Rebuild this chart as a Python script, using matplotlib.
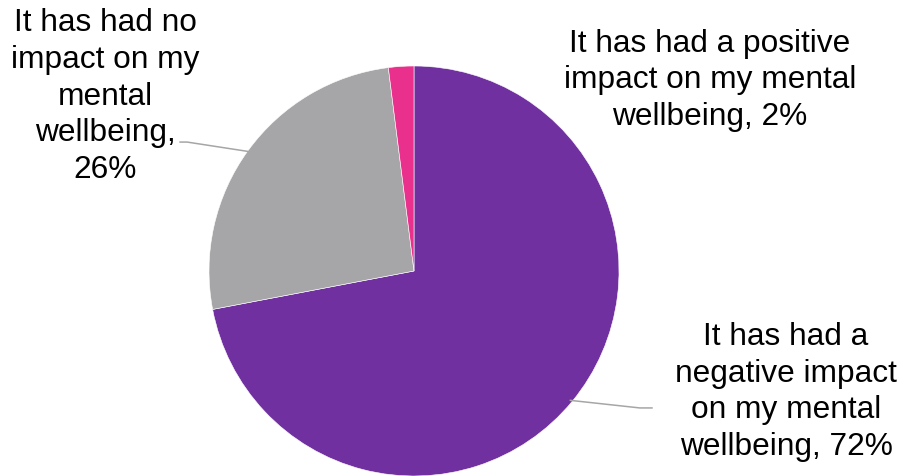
import numpy as np
import matplotlib
matplotlib.use("Agg")
import matplotlib.pyplot as plt

# --- data ---
labels = [
    "It has had a\nnegative impact\non my mental\nwellbeing, 72%",
    "It has had no\nimpact on my\nmental\nwellbeing,\n26%",
    "It has had a positive\nimpact on my mental\nwellbeing, 2%",
]
values = [72, 26, 2]
colors = ["#7030A0", "#A6A6A8", "#E9308C"]

# label anchors (centre x, last baseline y) in pie-radius units
label_pos = [(1.815, -0.893), (-1.507, 0.459), (1.444, 0.717)]
# leader line end points (elbow, end); None = no leader
leaders = [((1.102, -0.668), (1.161, -0.668)),
           ((-1.107, 0.629), (-1.141, 0.629)),
           None]

plt.rcParams['font.family'] = ['Liberation Sans', 'DejaVu Sans']

fig = plt.figure(figsize=(9.04, 4.77), dpi=100)
ax = fig.add_axes([209 / 904, 0.0, 410 / 904, 410 / 477])

wedges, _ = ax.pie(values, colors=colors, startangle=90, counterclock=False,
                   radius=1.0, wedgeprops=dict(edgecolor="white", linewidth=0.4))
ax.set_xlim(-1, 1)
ax.set_ylim(-1, 1)
ax.set_aspect("equal")
ax.axis("off")

for w, lab, pos, ld in zip(wedges, labels, label_pos, leaders):
    ax.text(pos[0], pos[1], lab, ha="center", va="baseline", multialignment="center",
            fontsize=22.8, linespacing=1.29, color="black", clip_on=False)
    if ld is not None:
        mid = np.deg2rad((w.theta1 + w.theta2) / 2)
        xs = [np.cos(mid) * 0.99, ld[0][0], ld[1][0]]
        ys = [np.sin(mid) * 0.99, ld[0][1], ld[1][1]]
        ax.plot(xs, ys, color="#A6A6A6", linewidth=1.1, clip_on=False)

fig.savefig("out.png", dpi=100)
